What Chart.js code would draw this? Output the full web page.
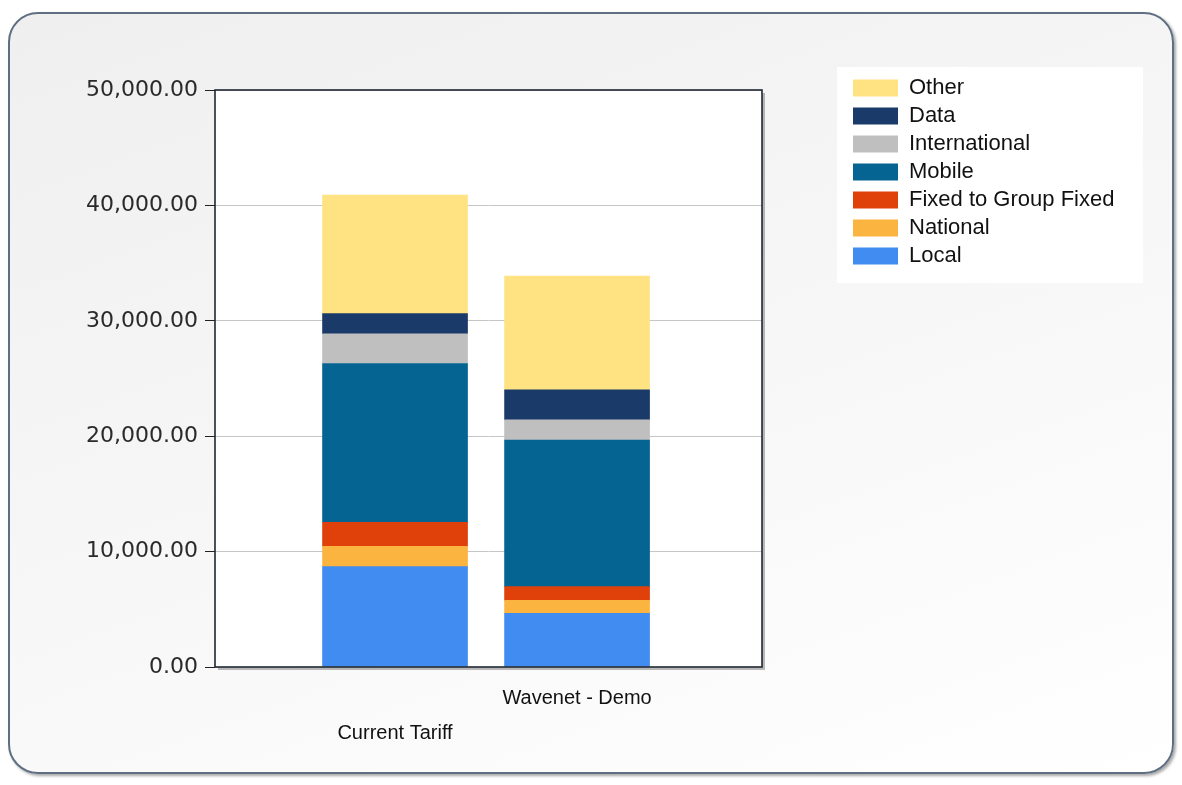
<!DOCTYPE html>
<html><head><meta charset="utf-8">
<script src="https://cdn.jsdelivr.net/npm/chart.js@4.4.1/dist/chart.umd.min.js"></script>
<style>
html,body{margin:0;padding:0;background:#fff;}
#wrap{position:relative;width:1182px;height:785px;overflow:hidden;}
#frame{position:absolute;left:8px;top:12px;width:1162px;height:758px;border:2px solid #5f6f82;border-radius:30px;background:linear-gradient(160deg,#efefef 0%,#f6f6f6 45%,#ffffff 100%);box-shadow:2px 2px 3px rgba(0,0,0,0.35);}
#cv{position:absolute;left:0;top:0;}
</style></head><body>
<div id="wrap"><div id="frame"></div><canvas id="cv" width="1182" height="785"></canvas></div>
<script>
// ---- data ----
const categories = ['Current Tariff', 'Wavenet - Demo'];
const seriesNames = ['Local', 'National', 'Fixed to Group Fixed', 'Mobile', 'International', 'Data', 'Other'];
const localVals = [8700, 4650];
const nationalVals = [1750, 1130];
const fixedGroupVals = [2080, 1180];
const mobileVals = [13770, 12710];
const internationalVals = [2580, 1740];
const dataVals = [1740, 2600];
const otherVals = [10270, 9860];
const yMin = 0, yMax = 50000, yStep = 10000;

const seriesValues = [localVals, nationalVals, fixedGroupVals, mobileVals, internationalVals, dataVals, otherVals];
const seriesColors = ['#418CF0', '#FCB441', '#E0400A', '#056492', '#BFBFBF', '#1A3B69', '#FFE382'];

const datasets = seriesNames.map((name, s) => ({
  label: name,
  data: seriesValues[s].map((v, i) => ({x: i, y: v})),
  backgroundColor: seriesColors[s],
  borderWidth: 0,
  barThickness: 145
}));

const fmt = v => Number(v).toLocaleString('en-US', {minimumFractionDigits: 2, maximumFractionDigits: 2});

const framePlugin = {
  id: 'frame',
  beforeLayout(chart) {
    const lg = chart.legend;
    if (lg && !lg._fixedW) {
      const f = lg.fit;
      lg.fit = function () { f.call(this); this.width = 296; };
      lg._fixedW = true;
    }
  },
  beforeDraw(chart) {
    const {ctx, chartArea: a, legend} = chart;
    ctx.save();
    ctx.fillStyle = 'rgba(60,60,60,0.35)';
    ctx.fillRect(a.left + 3, a.top + 3, a.right - a.left, a.bottom - a.top);
    ctx.fillStyle = '#ffffff';
    ctx.fillRect(a.left, a.top, a.right - a.left, a.bottom - a.top);
    if (legend) {
      ctx.fillStyle = '#ffffff';
      ctx.fillRect(legend.left - 10, legend.top - 4, legend.right - legend.left + 10, 216);
    }
    ctx.restore();
  },
  afterDatasetsDraw(chart) {
    const {ctx, chartArea: a} = chart;
    ctx.save();
    ctx.strokeStyle = '#1f2731';
    ctx.lineWidth = 1.6;
    ctx.strokeRect(a.left, a.top, a.right - a.left, a.bottom - a.top);
    ctx.restore();
  }
};

new Chart(document.getElementById('cv'), {
  type: 'bar',
  data: {datasets},
  plugins: [framePlugin],
  options: {
    responsive: false,
    animation: false,
    devicePixelRatio: 1,
    layout: {padding: {top: 71, left: 0, right: 39, bottom: 21}},
    scales: {
      x: {
        type: 'linear',
        stacked: true,
        offset: false,
        min: -0.989,
        max: 2.016,
        grid: {display: false, drawTicks: false, offset: false},
        border: {display: false},
        afterBuildTicks: s => { s.ticks = categories.map((c, i) => ({value: i})); },
        ticks: {
          autoSkip: false,
          maxRotation: 0,
          minRotation: 0,
          padding: 13.5,
          color: '#111',
          font: {family: 'Liberation Sans', size: 20, lineHeight: 1.75},
          callback: (v, i) => (i % 2 === 0 ? ['', categories[i]] : [categories[i]])
        }
      },
      y: {
        stacked: true,
        min: yMin,
        max: yMax,
        afterFit: s => { s.width = 215; },
        grid: {color: '#c6c6c6', lineWidth: 1, drawTicks: true, tickLength: 10, tickColor: '#222'},
        border: {display: false},
        ticks: {
          stepSize: yStep,
          padding: 7,
          color: '#2a2a2a',
          font: {family: 'DejaVu Sans', size: 22},
          callback: v => fmt(v)
        }
      },
      y2: {
        type: 'linear',
        position: 'right',
        display: true,
        grid: {display: false, drawTicks: false},
        border: {display: false},
        ticks: {display: false},
        afterFit: s => { s.width = 85; }
      }
    },
    plugins: {
      title: {display: true, text: '', padding: 0, font: {size: 19, lineHeight: 1}},
      tooltip: {enabled: false},
      legend: {
        position: 'right',
        align: 'start',
        reverse: true,
        labels: {
          boxWidth: 45,
          boxHeight: 17,
          padding: 6,
          color: '#111',
          font: {family: 'Liberation Sans', size: 22}
        }
      }
    }
  }
});
</script>
</body></html>
